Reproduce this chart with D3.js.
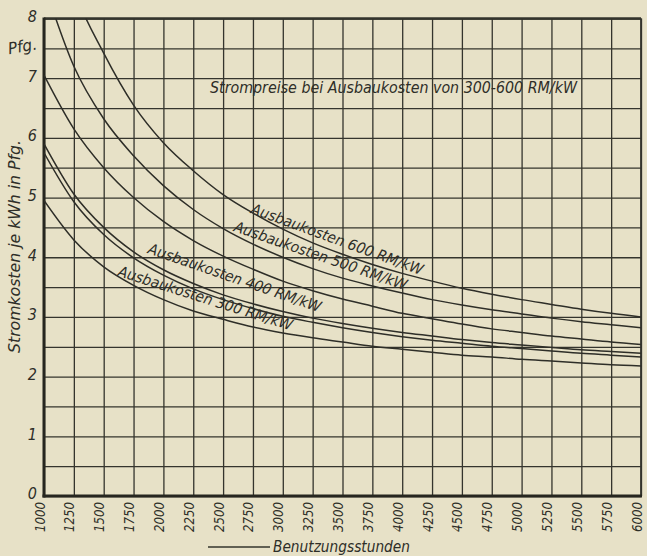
<!DOCTYPE html>
<html><head><meta charset="utf-8">
<script src="https://cdn.jsdelivr.net/npm/d3@7"></script>
<style>
html,body{margin:0;padding:0;background:#e7e1c7;}
text{font-family:"Liberation Sans Narrow","DejaVu Sans Condensed","Roboto Condensed",sans-serif;font-style:italic;fill:#2e2e28;}
</style></head>
<body><svg id="c" width="647" height="556"></svg>
<script>
// ---- data ----
const hours = [1000,1250,1500,1750,2000,2250,2500,2750,3000,3250,3500,3750,4000,4250,4500,4750,5000,5250,5500,5750,6000];
const curveA = [10.2,8.48,7.42,6.55,5.92,5.45,5.05,4.74,4.47,4.24,4.05,3.88,3.73,3.60,3.48,3.38,3.29,3.21,3.13,3.06,3.00];
const curveB = [8.58,7.20,6.32,5.70,5.20,4.80,4.48,4.22,4.00,3.81,3.65,3.52,3.40,3.29,3.20,3.12,3.05,2.98,2.92,2.87,2.82];
const curveC = [7.05,6.15,5.50,5.00,4.60,4.28,4.02,3.80,3.60,3.44,3.30,3.18,3.06,2.97,2.88,2.80,2.74,2.68,2.63,2.58,2.54];
const curveD = [5.90,5.06,4.50,4.09,3.79,3.56,3.37,3.22,3.09,2.98,2.89,2.81,2.74,2.68,2.62,2.57,2.53,2.49,2.45,2.42,2.39];
const curveE = [5.75,4.93,4.38,3.99,3.70,3.47,3.29,3.14,3.01,2.91,2.82,2.74,2.67,2.61,2.56,2.51,2.47,2.43,2.39,2.36,2.33];
const curveF = [4.95,4.29,3.84,3.53,3.29,3.10,2.96,2.83,2.73,2.65,2.58,2.51,2.46,2.41,2.36,2.33,2.29,2.26,2.23,2.20,2.18];
const series = [curveA, curveB, curveC, curveD, curveE, curveF];
const yTicks = [0,0.5,1,1.5,2,2.5,3,3.5,4,4.5,5,5.5,6,6.5,7,7.5,8];
const yLabels = ["0","","1","","2","","3","","4","","5","","6","","7","Pfg.","8"];
const curveLabels = ["Ausbaukosten 600 RM/kW","Ausbaukosten 500 RM/kW","Ausbaukosten 400 RM/kW","Ausbaukosten 300 RM/kW"];
const labelHours = [2725,2583,1863,1611];
const labelValues = [4.74,4.44,4.07,3.69];
const labelAngles = [20,19,19,17.5];
const title = "Strompreise bei Ausbaukosten von 300-600 RM/kW";
const yTitle = "Stromkosten je kWh in Pfg.";
const xTitle = "Benutzungsstunden";

// ---- drawing ----
const ink = "#34342d";
const svg = d3.select("#c");
const L = 44, R = 641, T = 18.5, B = 496;
const x = d3.scaleLinear().domain([1000,6000]).range([L,R]);
const y = d3.scaleLinear().domain([0,8]).range([B,T]);

// vertical grid + x labels
const gx = svg.append("g").attr("transform",`translate(0,${B})`)
  .call(d3.axisBottom(x).tickValues(hours).tickSize(-(B-T)).tickFormat(d3.format("d")));
gx.select(".domain").remove();
gx.selectAll(".tick line").attr("stroke",ink).attr("stroke-width",1.3);
gx.selectAll(".tick text")
  .attr("transform","rotate(-90)")
  .attr("text-anchor","end").attr("x",-6).attr("y",0).attr("dy","0")
  .attr("font-size",14).attr("textLength",30).attr("lengthAdjust","spacingAndGlyphs")
  .attr("fill",ink);

// horizontal grid + y labels
const gy = svg.append("g").attr("transform",`translate(${L},0)`)
  .call(d3.axisLeft(y).tickValues(yTicks).tickSize(-(R-L)).tickPadding(7)
    .tickFormat((d,i)=>yLabels[i]));
gy.select(".domain").remove();
gy.selectAll(".tick line").attr("stroke",ink).attr("stroke-width",1.3);
gy.selectAll(".tick text").attr("font-size",16).attr("dy","0.3em").attr("y",-2)
  .attr("fill",ink);
gy.selectAll(".tick text").filter(d=>d===7.5).attr("x",-7).attr("font-size",16)
  .attr("textLength",29).attr("lengthAdjust","spacingAndGlyphs")
  .attr("transform","rotate(-10,-20,-2)");

// frame
svg.append("line").attr("x1",L).attr("x2",R).attr("y1",T).attr("y2",T).attr("stroke",ink).attr("stroke-width",2.5);
svg.append("line").attr("x1",R).attr("x2",R).attr("y1",T).attr("y2",B).attr("stroke",ink).attr("stroke-width",1.8);
svg.append("line").attr("x1",L).attr("x2",L).attr("y1",T-1).attr("y2",B+1.5).attr("stroke","#26261f").attr("stroke-width",3);
svg.append("line").attr("x1",L-1.5).attr("x2",R+1).attr("y1",B).attr("y2",B).attr("stroke","#26261f").attr("stroke-width",3);

// curves
svg.append("clipPath").attr("id","clip").append("rect").attr("x",L).attr("y",T).attr("width",R-L).attr("height",B-T);
const line = d3.line().x((d,i)=>x(hours[i])).y(d=>y(d)).curve(d3.curveMonotoneX);
svg.append("g").attr("clip-path","url(#clip)").selectAll("path").data(series).join("path")
  .attr("d",line).attr("fill","none").attr("stroke","#2e2e28").attr("stroke-width",1.5);

// curve labels
svg.append("g").selectAll("text").data(curveLabels).join("text")
  .attr("transform",(d,i)=>`translate(${x(labelHours[i])},${y(labelValues[i])}) rotate(${labelAngles[i]})`)
  .attr("font-size",15).attr("textLength",182).attr("lengthAdjust","spacingAndGlyphs")
  .text(d=>d);

// title
svg.append("text").attr("x",210).attr("y",93).attr("font-size",16)
  .attr("textLength",367).attr("lengthAdjust","spacingAndGlyphs").text(title);

// y title
svg.append("text").attr("transform","translate(20,353) rotate(-90)").attr("font-size",15)
  .attr("textLength",213).attr("lengthAdjust","spacingAndGlyphs").text(yTitle);

// x title
svg.append("line").attr("x1",208).attr("x2",270).attr("y1",547).attr("y2",547).attr("stroke",ink).attr("stroke-width",1.5);
svg.append("text").attr("x",273).attr("y",552).attr("font-size",15)
  .attr("textLength",137).attr("lengthAdjust","spacingAndGlyphs").text(xTitle);
</script></body></html>
